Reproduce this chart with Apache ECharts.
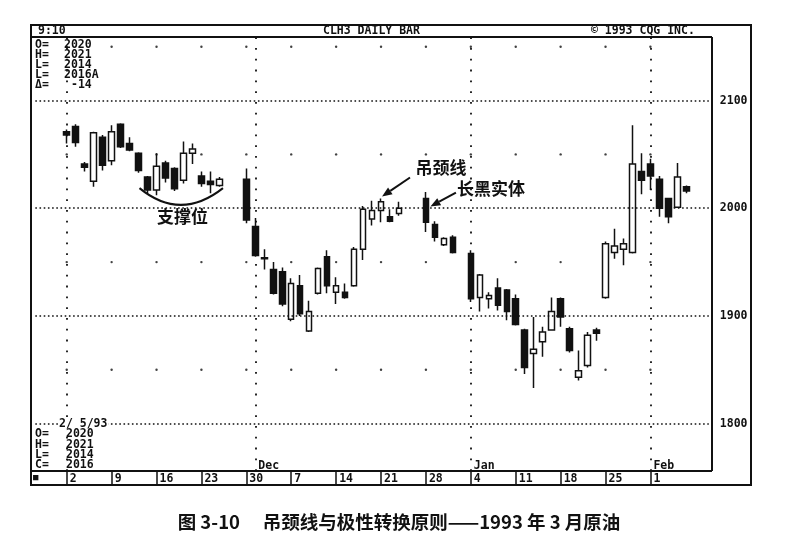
<!DOCTYPE html>
<html><head><meta charset="utf-8">
<script src="https://cdn.jsdelivr.net/npm/echarts@6/dist/echarts.min.js"></script>
<style>html,body{margin:0;padding:0;background:#fff}#c{width:798px;height:544px}</style>
</head><body><div id="c"></div>
<script>
// ---------- data ----------
const tradeDays = ['11/02','11/03','11/04','11/05','11/06','11/09','11/10','11/11','11/12','11/13','11/16','11/17','11/18','11/19','11/20','11/23','11/24','11/25',
 '11/30','12/01','12/02','12/03','12/04','12/07','12/08','12/09','12/10','12/11','12/14','12/15','12/16','12/17','12/18','12/21','12/22','12/23',
 '12/28','12/29','12/30','12/31',
 '01/04','01/05','01/06','01/07','01/08','01/11','01/12','01/13','01/14','01/15','01/18','01/19','01/20','01/21','01/22','01/25','01/26','01/27','01/28','01/29','02/01','02/02','02/03','02/04','02/05'];
const opens = [2071,2076,2041,2025,2066,2044,2078,2060,2051,2029,2017,2042,2037,2026,2051,2030,2025,2021,
 2027,1983,1954,1943,1941,1897,1928,1886,1921,1955,1922,1922,1928,1962,1990,1998,1992,1995,
 2009,1985,1966,1973,
 1958,1917,1916,1926,1924,1916,1887,1865,1876,1887,1916,1888,1843,1854,1887,1917,1959,1962,1959,2034,2041,2027,2009,2001,2020];
const highs = [2073,2078,2043,2071,2068,2077,2079,2066,2052,2030,2051,2044,2038,2062,2060,2034,2034,2029,
 2037,1991,1962,1950,1945,1935,1938,1914,1945,1961,1936,1930,1964,2002,2007,2009,1999,2006,
 2015,1988,1973,1975,
 1961,1939,1922,1935,1925,1920,1888,1899,1890,1917,1917,1890,1868,1885,1889,1969,1981,1972,2077,2051,2046,2030,2009,2042,2021];
const lows = [2060,2057,2034,2020,2035,2040,2056,2053,2033,2014,2012,2024,2016,2023,2041,2020,2014,2020,
 1986,1955,1943,1920,1909,1895,1900,1885,1920,1921,1911,1916,1927,1952,1984,1987,1987,1993,
 1978,1969,1965,1958,
 1913,1904,1907,1905,1896,1891,1846,1833,1862,1887,1890,1866,1840,1852,1877,1916,1953,1947,1958,2013,2017,1992,1986,2001,2014];
const closes = [2068,2061,2038,2070,2040,2071,2057,2054,2035,2017,2039,2028,2018,2051,2055,2023,2022,2027,
 1989,1956,1953,1921,1911,1930,1902,1904,1944,1928,1928,1917,1962,1999,1998,2006,1988,2000,
 1987,1973,1972,1959,
 1916,1938,1919,1910,1904,1892,1852,1869,1885,1904,1899,1868,1849,1882,1884,1967,1965,1967,2041,2026,2030,2000,1992,2029,2016];
const priceTicks = [1800, 1900, 2000, 2100];
const dotLevels = [1850, 1950, 2050, 2150];
const monthStarts = ['11/02', '12/01', '01/04', '02/01'];
const monthNames = ['', 'Dec', 'Jan', 'Feb'];
const lastChange = '-14';
const captionText = '图 3-10\u3000 吊颈线与极性转换原则——1993 年 3 月原油';

// ---------- axis days (all weekdays) ----------
const axisDays = [];
const mondays = new Set();
const lastTrade = Date.UTC(1993, 1, 5);
for (let t = Date.UTC(1992, 9, 28); t <= Date.UTC(1993, 1, 9); t += 86400000) {
  const d = new Date(t), w = d.getUTCDay();
  if (w === 0 || w === 6) continue;
  const s = String(d.getUTCMonth() + 1).padStart(2, '0') + '/' + String(d.getUTCDate()).padStart(2, '0');
  axisDays.push(s);
  if (w === 1 && t <= lastTrade) mondays.add(s);
}
const candleData = axisDays.map(day => {
  const i = tradeDays.indexOf(day);
  return i < 0 ? ['-', '-', '-', '-'] : [opens[i], closes[i], lows[i], highs[i]];
});
const dotData = [];
axisDays.forEach(day => {
  if (mondays.has(day)) dotLevels.forEach(v => dotData.push([day, v]));
});

const INK = '#111';
const MONO = '"DejaVu Sans Mono", "Liberation Mono", monospace';
const CJK = '"Noto Sans CJK SC", sans-serif';

const chart = echarts.init(document.getElementById('c'), null, { renderer: 'canvas' });
const option = {
  backgroundColor: '#fff',
  animation: false,
  title: {
    text: captionText, left: 'center', top: 508,
    textStyle: { fontSize: 18.5, fontWeight: 'bold', fontFamily: CJK, color: INK }
  },
  grid: { left: 35.3, right: 89.2, top: 37, bottom: 73 },
  xAxis: {
    type: 'category', data: axisDays, boundaryGap: true,
    axisLine: { show: false },
    axisTick: { show: true, alignWithLabel: true, length: 14, interval: (i, v) => mondays.has(v), lineStyle: { color: INK, width: 1.5 } },
    axisLabel: {
      interval: (i, v) => mondays.has(v), formatter: v => String(parseInt(v.split('/')[1], 10)),
      align: 'left', padding: [0, 0, 0, 3], margin: 2,
      fontFamily: MONO, fontWeight: 'bold', fontSize: 11.5, color: INK
    },
    splitLine: { show: false }
  },
  yAxis: {
    type: 'value', position: 'right', min: 1756, max: 2159, scale: true,
    axisLine: { show: false }, axisTick: { show: false }, splitLine: { show: false },
    axisLabel: { customValues: priceTicks, formatter: v => String(v), margin: 11, align: 'left', fontFamily: MONO, fontWeight: 'bold', fontSize: 11.5, color: INK }
  },
  series: [
    {
      type: 'scatter', data: dotData, symbol: 'circle', symbolSize: 2.4, z: 1, silent: true,
      itemStyle: { color: INK },
      markLine: {
        silent: true, symbol: ['none', 'none'], label: { show: false },
        data: priceTicks.map(v => ({ yAxis: v, lineStyle: { color: INK, width: 1.6, type: [1.6, 2.6] } }))
          .concat(monthStarts.map(d => ({ xAxis: d, lineStyle: { color: INK, width: 1.8, type: [1.8, 9] } })))
      },
      markPoint: {
        silent: true, symbol: 'circle', symbolSize: 0,
        data: monthStarts.map((d, i) => ({ coord: [d, 1760.6], name: monthNames[i] })).filter(o => o.name),
        label: { show: true, position: 'right', distance: 3, formatter: p => p.name, fontFamily: MONO, fontWeight: 'bold', fontSize: 11.5, color: INK }
      }
    },
    {
      type: 'candlestick', data: candleData, barWidth: 6, z: 3,
      itemStyle: { color: '#fff', color0: INK, borderColor: INK, borderColor0: INK, borderWidth: 1.5 }
    }
  ]
};
chart.setOption(option);

// ---------- frame, header texts & annotations ----------
const px = (d, v) => chart.convertToPixel({ xAxisIndex: 0, yAxisIndex: 0 }, [d, v]);
function txt(text, x, y, font, align) {
  return { type: 'text', z: 50, style: { text, x, y, font, fill: INK, textAlign: align || 'left', align: align || 'left', textVerticalAlign: 'middle', verticalAlign: 'middle' } };
}
function line(x1, y1, x2, y2, w) {
  return { type: 'line', z: 50, shape: { x1, y1, x2, y2 }, style: { stroke: INK, lineWidth: w || 2 } };
}
function arrow(sx, sy, tx, ty) {
  const dx = tx - sx, dy = ty - sy, L = Math.hypot(dx, dy), ux = dx / L, uy = dy / L;
  const hl = 10, hw = 4, bx = tx - ux * hl, by = ty - uy * hl;
  return [line(sx, sy, bx, by, 2),
    { type: 'polygon', z: 50, shape: { points: [[tx, ty], [bx - uy * hw, by + ux * hw], [bx + uy * hw, by - ux * hw]] }, style: { fill: INK } }];
}
const F = 'bold 11.5px ' + MONO;
const FC = 'bold 17px ' + CJK;
const li = tradeDays.length - 1;
const g = [];
g.push({ type: 'rect', z: 50, shape: { x: 31, y: 25, width: 720, height: 460 }, style: { fill: 'none', stroke: INK, lineWidth: 2 } });
g.push(line(31, 37, 712, 37, 2));
g.push(line(712, 37, 712, 471, 2));
g.push(line(31, 471, 712, 471, 2));
g.push(txt('9:10', 38, 31, F));
g.push(txt('CLH3 DAILY BAR', 323, 31, F));
g.push(txt('© 1993 CQG INC.', 591, 31, F));
g.push(txt('■', 33, 478, 'bold 9px ' + MONO));
// upper quote box
[['O=', opens[li]], ['H=', highs[li]], ['L=', lows[li]], ['L=', closes[li] + 'A'], ['Δ=', lastChange]].forEach((r, i) => {
  g.push(txt(r[0], 35, 45 + i * 10, F));
  g.push(txt(String(r[1]), r[0] === 'Δ=' ? 71 : 64, 45 + i * 10, F));
});
// lower quote box
g.push({ type: 'text', z: 50, style: { text: '2/ 5/93', x: 58, y: 424, font: F, fill: INK, backgroundColor: '#fff', padding: [0, 1, 0, 1], textVerticalAlign: 'middle', verticalAlign: 'middle' } });
[['O=', opens[li]], ['H=', highs[li]], ['L=', lows[li]], ['C=', closes[li]]].forEach((r, i) => {
  g.push(txt(r[0], 35, 434.5 + i * 10.2, F));
  g.push(txt(String(r[1]), 66, 434.5 + i * 10.2, F));
});
// hanging man annotation
const hm = tradeDays.indexOf('12/21');
const a1 = px('12/21', highs[hm]);
g.push(...arrow(a1[0] + 29, a1[1] - 21, a1[0] + 1, a1[1] - 2));
g.push(txt('吊颈线', a1[0] + 60, a1[1] - 31, FC, 'center'));
// long black body annotation
const lb = tradeDays.indexOf('12/28');
const a2 = px('12/28', opens[lb]);
g.push(...arrow(a2[0] + 30, a2[1] - 6, a2[0] + 4.5, a2[1] + 8));
g.push(txt('长黑实体', a2[0] + 31, a2[1] - 10, FC, 'left'));
// support annotation
const a3 = px('11/18', 2021);
g.push({ type: 'bezierCurve', z: 50, shape: { x1: a3[0] - 35, y1: a3[1] + 2.5, cpx1: a3[0] + 6, cpy1: a3[1] + 36, x2: a3[0] + 48.5, y2: a3[1] + 2.5 }, style: { stroke: INK, lineWidth: 2, fill: 'none' } });
g.push(txt('支撑位', a3[0] + 8, a3[1] + 31, FC, 'center'));
chart.setOption({ graphic: { elements: g } });
</script>
</body></html>
